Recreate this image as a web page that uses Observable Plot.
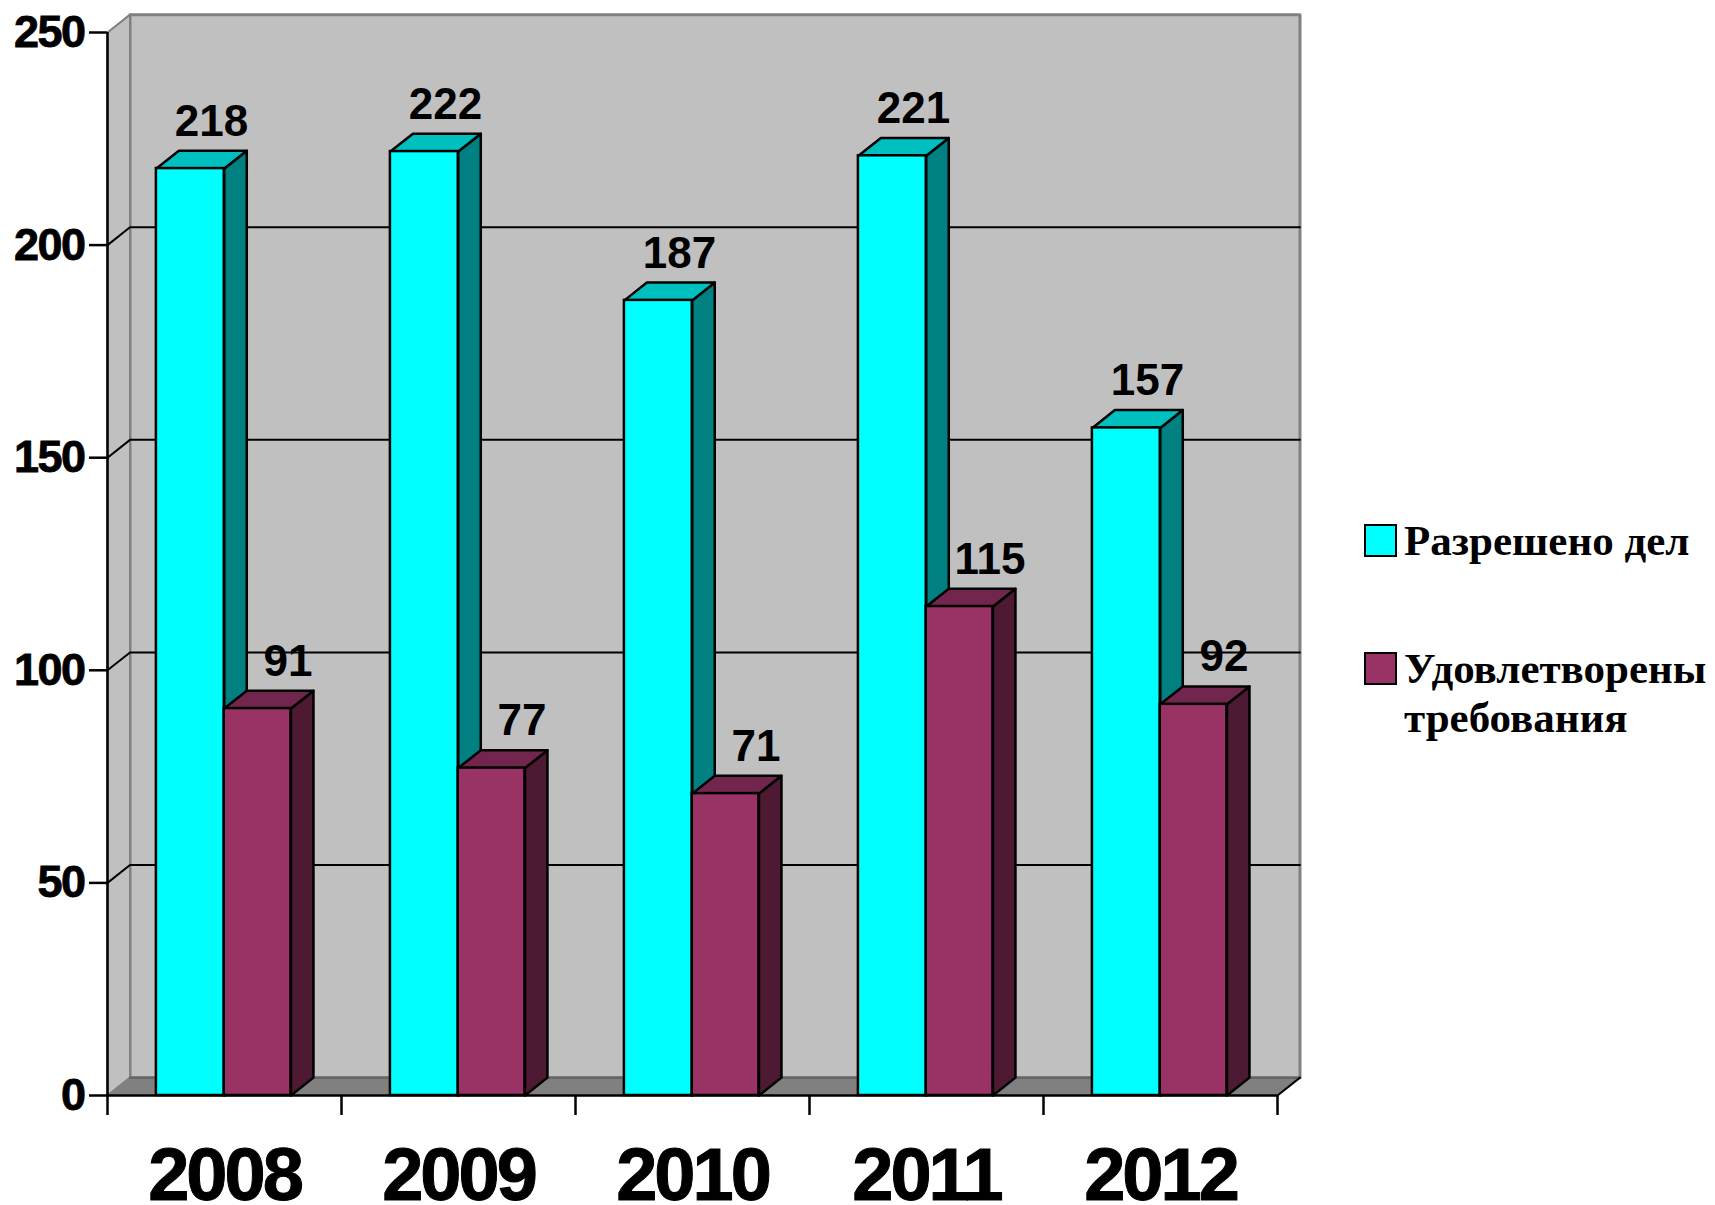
<!DOCTYPE html>
<html lang="ru">
<head>
<meta charset="utf-8">
<script src="https://cdn.jsdelivr.net/npm/d3@7"></script>
<script src="https://cdn.jsdelivr.net/npm/@observablehq/plot@0.6"></script>
<style>
  html, body { margin: 0; padding: 0; background: #fff; }
  #wrap { position: relative; width: 1715px; height: 1205px; overflow: hidden; }
  #wrap svg { display: block; }
  [aria-label="y-axis tick label"] text { letter-spacing: -1.5px; stroke: #000; stroke-width: 0.8px; }
  [aria-label="value"] text { letter-spacing: -2px; stroke: #000; stroke-width: 0.8px; }
  [aria-label="x-axis tick label"] text { letter-spacing: -3px; stroke: #000; stroke-width: 1px; }
  .swatch { position: absolute; box-sizing: border-box; width: 33px; height: 33px; border: 2.5px solid #000; }
  .entry { position: absolute; left: 1404px; font: 700 43px/49px "Liberation Serif", serif; color: #000; white-space: nowrap; }
</style>
</head>
<body>
<div id="wrap"></div>
<script>
const years = ["2008", "2009", "2010", "2011", "2012"];
const resolved = [218, 222, 187, 221, 157];
const satisfied = [91, 77, 71, 115, 92];
const gridValues = [50, 100, 150, 200];
const yTicks = [0, 50, 100, 150, 200, 250];
const seriesNames = ["Разрешено дел", "Удовлетворены требования"];

// 3D look, in data units
const depthX = 22.5 / 234;
const depthY = 4.2;
const barLeft = 0.209;
const cyanWidth = 0.29;
const purpleWidth = 0.285;
const yMax = 250, n = years.length;
const INK = "#000";

const polygonMark = (rows, fill, stroke, strokeWidth = 2.5) =>
  Plot.line(rows, {x: "x", y: "y", z: "id", fill, stroke, strokeWidth, curve: "linear-closed", strokeLinejoin: "round"});

function barRows(values, start, width) {
  return values.map((v, i) => {
    const x1 = i + start, x2 = x1 + width;
    return {i, v, x1, x2};
  });
}
function sideRows(bars) {
  return bars.flatMap(b => [
    [b.x2, 0], [b.x2 + depthX, depthY], [b.x2 + depthX, b.v + depthY], [b.x2, b.v]
  ].map(([x, y]) => ({id: b.i, x, y})));
}
function topRows(bars) {
  return bars.flatMap(b => [
    [b.x1, b.v], [b.x1 + depthX, b.v + depthY], [b.x2 + depthX, b.v + depthY], [b.x2, b.v]
  ].map(([x, y]) => ({id: b.i, x, y})));
}
const poly = pts => pts.map(([x, y]) => ({id: 0, x, y}));

const cyanBars = barRows(resolved, barLeft, cyanWidth);
const purpleBars = barRows(satisfied, barLeft + cyanWidth, purpleWidth);

const backWall = poly([[depthX, depthY], [n + depthX, depthY], [n + depthX, yMax + depthY], [depthX, yMax + depthY]]);
const leftWall = poly([[0, 0], [depthX, depthY], [depthX, yMax + depthY], [0, yMax]]);
const floorPoly = poly([[0, 0], [n, 0], [n + depthX, depthY], [depthX, depthY]]);
const gridRows = gridValues.flatMap(v => [[0, v], [depthX, v + depthY], [n + depthX, v + depthY]].map(([x, y]) => ({id: v, x, y})));

const labelRows = (bars, shift) => bars.map(b => ({x: (b.x1 + b.x2) / 2 + shift, y: b.v + depthY, v: b.v}));
const labelMark = rows => Plot.text(rows, {
  x: "x", y: "y", text: d => String(d.v), dy: -15, lineAnchor: "bottom",
  fontSize: 44, fontWeight: 700, fontFamily: "Liberation Sans", fill: INK, ariaLabel: "value"
});

const chart = Plot.plot({
  width: 1715,
  height: 1205,
  marginLeft: 107,
  marginRight: 438,
  marginTop: 32,
  marginBottom: 110,
  x: {domain: [0, n], range: [107, 1277]},
  y: {domain: [0, yMax], range: [1095, 32]},
  marks: [
    polygonMark(backWall, "#C0C0C0", "#808080", 3),
    polygonMark(leftWall, "#C0C0C0", "#808080", 2),
    polygonMark(floorPoly, "#808080", "#808080", 1),
    Plot.line(poly([[depthX, depthY], [n + depthX, depthY]]), {x: "x", y: "y", stroke: "#666666", strokeWidth: 2.5}),
    Plot.line(gridRows, {x: "x", y: "y", z: "id", stroke: INK, strokeWidth: 2}),
    Plot.ruleX([0], {y1: 0, y2: yMax, stroke: INK, strokeWidth: 2.5}),
    Plot.ruleY([0], {x1: 0, x2: n, stroke: INK, strokeWidth: 2.5}),
    Plot.line(poly([[n, 0], [n + depthX, depthY]]), {x: "x", y: "y", stroke: INK, strokeWidth: 2}),

    polygonMark(sideRows(cyanBars), "#008080", INK),
    polygonMark(topRows(cyanBars), "#00BFBF", INK),
    Plot.rectY(cyanBars, {x1: "x1", x2: "x2", y1: 0, y2: "v", fill: "#00FFFF", stroke: INK, strokeWidth: 2.5}),
    polygonMark(sideRows(purpleBars), "#4D1933", INK),
    polygonMark(topRows(purpleBars), "#73264D", INK),
    Plot.rectY(purpleBars, {x1: "x1", x2: "x2", y1: 0, y2: "v", fill: "#993366", stroke: INK, strokeWidth: 2.5}),

    labelMark(labelRows(cyanBars, 0.09)),
    labelMark(labelRows(purpleBars, 0.13)),

    Plot.axisY({
      ticks: yTicks, tickSize: 18, tickPadding: 5, label: null, stroke: INK, strokeWidth: 2.5,
      fontSize: 45, fontWeight: 700, fontFamily: "Liberation Sans", fill: INK
    }),
    Plot.axisX({ticks: d3.range(n + 1), tickSize: 20, tickFormat: () => "", label: null, stroke: INK, strokeWidth: 2.5}),
    Plot.axisX({
      ticks: years.map((_, i) => i + 0.5),
      tickFormat: t => years[Math.floor(t)],
      tickSize: 0, tickPadding: 52, label: null,
      fontSize: 74, fontWeight: 700, fontFamily: "Liberation Sans", fill: INK
    })
  ]
});

const wrap = document.getElementById("wrap");
wrap.append(chart);

const legendEntries = [
  {fill: "#00FFFF", boxTop: 524, lines: [seriesNames[0]], textTop: 516},
  {fill: "#993366", boxTop: 652, lines: ["Удовлетворены", "требования"], textTop: 644}
];
for (const e of legendEntries) {
  const s = document.createElement("div");
  s.className = "swatch";
  s.style.left = "1364px";
  s.style.top = e.boxTop + "px";
  s.style.background = e.fill;
  wrap.append(s);
  const t = document.createElement("div");
  t.className = "entry";
  t.style.top = e.textTop + "px";
  t.innerHTML = e.lines.join("<br>");
  wrap.append(t);
}
</script>
</body>
</html>
